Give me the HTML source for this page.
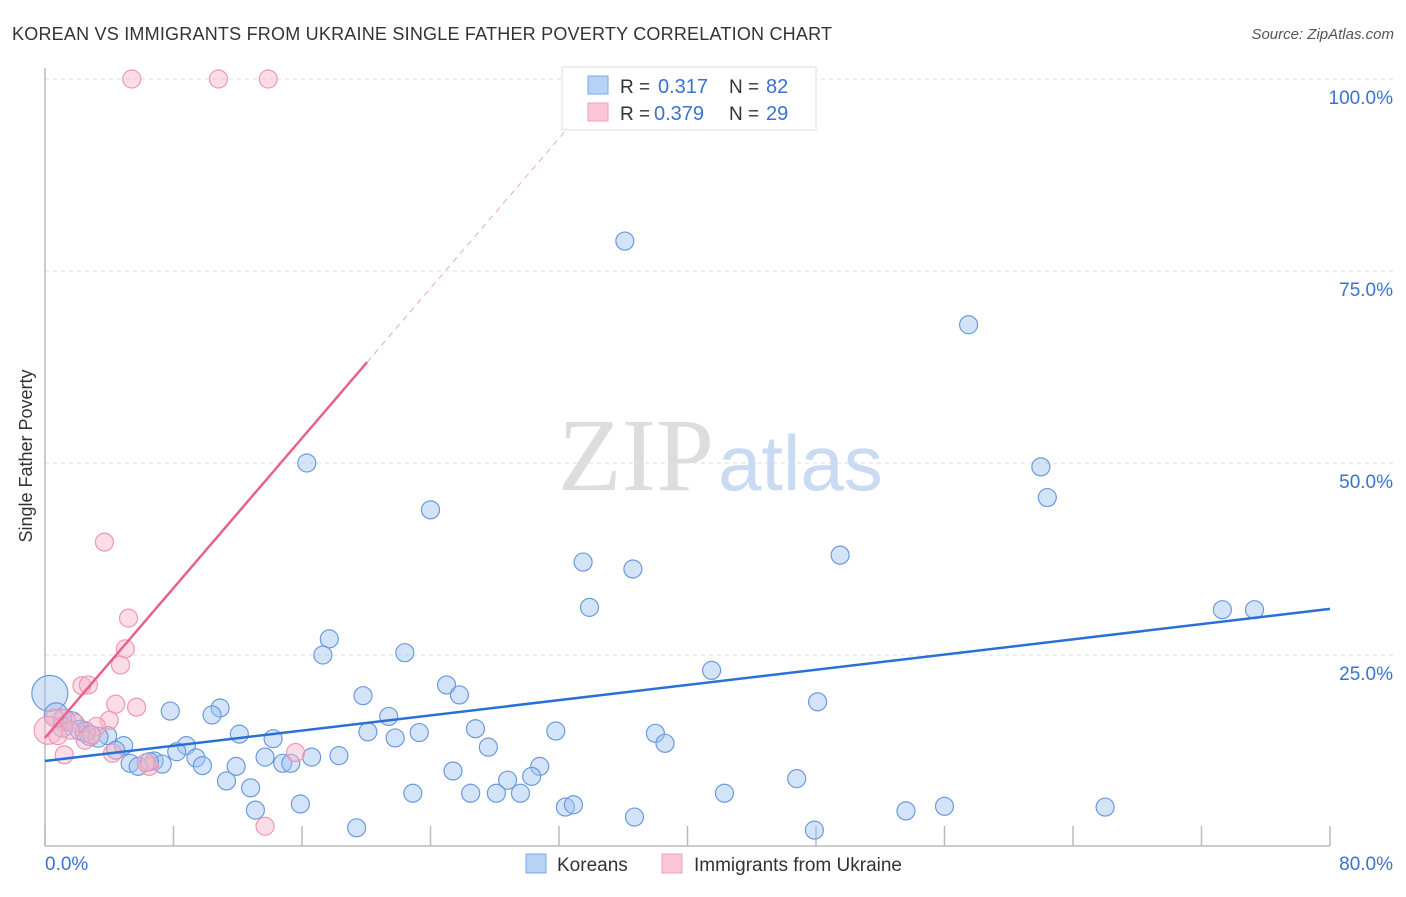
<!DOCTYPE html>
<html><head><meta charset="utf-8"><style>
body{margin:0;background:#fff;font-family:"Liberation Sans",sans-serif}
svg text{font-family:"Liberation Sans",sans-serif}
</style></head><body>
<svg id="c" width="1406" height="892">
<text x="12" y="40" font-size="18" fill="#333" textLength="820">KOREAN VS IMMIGRANTS FROM UKRAINE SINGLE FATHER POVERTY CORRELATION CHART</text>
<text x="1394" y="39" font-size="15" fill="#555" text-anchor="end" font-style="italic">Source: ZipAtlas.com</text>
<text x="32" y="456" font-size="18" fill="#333" text-anchor="middle" transform="rotate(-90 32 456)">Single Father Poverty</text>
<g id="grid"></g>
<text x="714" y="490" font-size="104" fill="#ddd" text-anchor="end" font-family="Liberation Serif" style="font-family:'Liberation Serif',serif">ZIP</text>
<text x="718" y="490" font-size="78" fill="#c9daf2">atlas</text>
<g id="marks"></g>
<g>
<rect x="562" y="67" width="254" height="63" fill="#fff" stroke="#ddd"/>
<rect x="588" y="76" width="20" height="18" fill="#b8d2f6" stroke="#7aa8e6"/>
<rect x="588" y="103" width="20" height="18" fill="#fac6d5" stroke="#f0a0b8"/>
<text x="620" y="93" font-size="19" fill="#333">R =</text>
<text x="658" y="93" font-size="20" fill="#3a72d0">0.317</text>
<text x="729" y="93" font-size="19" fill="#333">N =</text>
<text x="766" y="93" font-size="20" fill="#3a72d0">82</text>
<text x="620" y="120" font-size="19" fill="#333">R =</text>
<text x="654" y="120" font-size="20" fill="#3a72d0">0.379</text>
<text x="729" y="120" font-size="19" fill="#333">N =</text>
<text x="766" y="120" font-size="20" fill="#3a72d0">29</text>
</g>
<g>
<rect x="526" y="854" width="20" height="19" fill="#b8d2f6" stroke="#7aa8e6"/>
<text x="557" y="871" font-size="19" fill="#333">Koreans</text>
<rect x="662" y="854" width="20" height="19" fill="#fac6d5" stroke="#f0a0b8"/>
<text x="694" y="871" font-size="19" fill="#333">Immigrants from Ukraine</text>
</g>
</svg>
<script>
const xTicks=[0,8,16,24,32,40,48,56,64,72,80];
const yTicks=[25,50,75,100];
const yTickLabels=["25.0%","50.0%","75.0%","100.0%"];
const koreansX=[36.1,57.5,16.3,62,62.4,24,49.5,33.5,36.6,33.9,73.3,75.3,17.7,17.3,22.4,41.5,25,19.8,25.8,48.1,10.9,7.8,10.4,21.4,26.8,31.8,23.3,20.1,12.1,38,14.2,21.8,8.8,38.6,27.6,3.9,4.9,4.4,9.4,8.2,13.7,16.6,18.3,14.8,15.3,9.8,11.9,5.3,5.8,6.8,7.3,6.5,30.8,25.4,30.3,28.8,46.8,11.3,12.8,22.9,26.5,28.1,29.6,42.3,15.9,13.1,32.4,32.9,56,66,53.6,36.7,19.4,47.9,0.3,0.7,1.2,1.7,2.2,2.8,3.3,2.5,1.1];
const koreansY=[78.9,68,50,49.5,45.5,43.9,38,37.1,36.2,31.2,30.9,30.9,27.1,25,25.3,23,21.1,19.7,19.8,18.9,18.1,17.7,17.2,17,15.4,15.1,14.9,15,14.7,14.8,14.1,14.2,13.2,13.5,13,14.5,13.2,12.6,11.6,12.4,11.7,11.7,11.9,10.9,10.9,10.6,10.5,10.9,10.5,11.2,10.8,11.1,10.5,9.9,9.2,8.7,8.9,8.6,7.7,7,7,7,7,7,5.6,4.8,5.2,5.5,5.3,5.2,4.7,3.9,2.5,2.2,20,17.2,16.5,16.3,15.2,14.5,14.3,15,15.6];
const koreansR=[9,9,9,9,9,9,9,9,9,9,9,9,9,9,9,9,9,9,9,9,9,9,9,9,9,9,9,9,9,9,9,9,9,9,9,9,9,9,9,9,9,9,9,9,9,9,9,9,9,9,9,9,9,9,9,9,9,9,9,9,9,9,9,9,9,9,9,9,9,9,9,9,9,9,18,12,11,10,10,10,10,10,10];
const ukraineX=[5.4,10.8,13.9,3.7,5.2,5,4.7,2.3,2.7,4.4,5.7,4,3.2,1.9,1.1,0.6,0.2,2.5,1.2,4.2,6.5,6.3,15.6,13.7,1.6,0.8,2.9];
const ukraineY=[100,100,100,39.7,29.8,25.8,23.7,21,21.1,18.6,18.2,16.5,15.7,16.1,16.8,16.8,15.2,13.9,12,12.2,10.5,11,12.3,2.7,15.2,14.5,14.6];
const ukraineR=[9,9,9,9,9,9,9,9,9,9,9,9,9,9,9,9,14,9,9,9,9,9,9,9,9,9,9];
const koreanTrend=[11.2,31.0];
const ukraineTrend=[14.2,2.44];
const NS="http://www.w3.org/2000/svg";
const X=v=>45+v*1285/80, Y=v=>847-v*7.68;
const grid=document.getElementById('grid'), marks=document.getElementById('marks');
function mk(tag,a,p){const e=document.createElementNS(NS,tag);for(const k in a)e.setAttribute(k,a[k]);(p||grid).appendChild(e);return e;}
yTicks.forEach((t,i)=>{
 const l=mk('line',{x1:45,x2:1394,y1:Y(t),y2:Y(t),stroke:'#ddd','stroke-dasharray':'4,4'});
 
 
 const tx=mk('text',{x:1393,y:Y(t)+25,'font-size':19,fill:'#3a72d0','text-anchor':'end'});
 tx.textContent=yTickLabels[i];
 
 
});
const ax=mk('line',{x1:45,x2:45,y1:68,y2:846,stroke:'#bbb','stroke-width':1.5});


const bx=mk('line',{x1:45,x2:1330,y1:846,y2:846,stroke:'#bbb','stroke-width':1.5});


xTicks.forEach(t=>{const l=mk('line',{x1:X(t),x2:X(t),y1:826,y2:846,stroke:'#bbb','stroke-width':1.5});
 
 });
const x0=mk('text',{x:45,y:870,'font-size':19,fill:'#3a72d0'});x0.textContent='0.0%';


const x1=mk('text',{x:1393,y:870,'font-size':19,fill:'#3a72d0','text-anchor':'end'});x1.textContent='80.0%';


koreansX.forEach((v,i)=>{const c=mk('circle',{cx:X(v),cy:Y(koreansY[i]),r:koreansR[i],fill:'rgba(160,196,240,0.45)',stroke:'#6a9ade','stroke-width':1.2},marks);
 
 });
ukraineX.forEach((v,i)=>{const c=mk('circle',{cx:X(v),cy:Y(ukraineY[i]),r:ukraineR[i],fill:'rgba(248,180,200,0.45)',stroke:'#ee98b2','stroke-width':1.2},marks);
 
 });
const kt=mk('line',{x1:X(0),y1:Y(koreanTrend[0]),x2:X(80),y2:Y(koreanTrend[1]),stroke:'#2a6fd6','stroke-width':2.5},marks);


const ue=20.05, ud=(100-ukraineTrend[0])/ukraineTrend[1];
const ut=mk('line',{x1:X(0),y1:Y(ukraineTrend[0]),x2:X(ue),y2:Y(ukraineTrend[0]+ukraineTrend[1]*ue),stroke:'#e8608c','stroke-width':2.5},marks);


const ud2=mk('line',{x1:X(ue),y1:Y(ukraineTrend[0]+ukraineTrend[1]*ue),x2:X(ud),y2:Y(100),stroke:'#f0a8be','stroke-width':1,'stroke-dasharray':'6,5'},marks);


</script>
</body></html>
